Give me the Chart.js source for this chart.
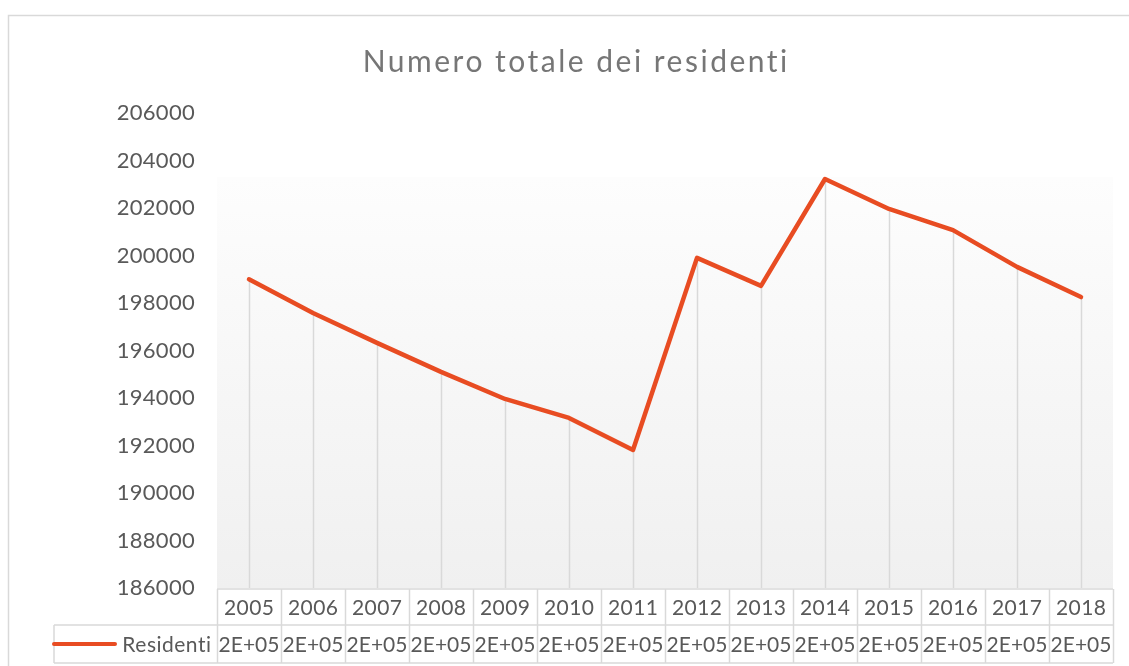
<!DOCTYPE html>
<html>
<head>
<meta charset="utf-8">
<script src="https://cdn.jsdelivr.net/npm/chart.js@4.4.1/dist/chart.umd.min.js"></script>
<style>
  html, body { margin: 0; padding: 0; background: #ffffff; }
  #wrap { width: 1129px; height: 666px; position: relative; }
</style>
</head>
<body>
<div id="wrap"><canvas id="c" width="1129" height="666"></canvas></div>
<script>
// ---- data ----
const chartTitle = 'Numero totale dei residenti';
const seriesName = 'Residenti';
const years = ['2005','2006','2007','2008','2009','2010','2011','2012','2013','2014','2015','2016','2017','2018'];
const residenti = [199000, 197580, 196320, 195100, 193960, 193160, 191810, 199900, 198720, 203220, 201960, 201070, 199520, 198250];
const yMin = 186000;
const yMax = 206000;
const yStep = 2000;

const FONT = 'Lato, "Open Sans", "Liberation Sans", sans-serif';
const LINE_COLOR = '#e84c22';
const GRID_COLOR = '#d9d9d9';
const TEXT_COLOR = '#595959';

// Excel-style "General" formatting in a narrow cell
function excelShort(v) {
  const e = Math.floor(Math.log10(Math.abs(v)));
  const m = Math.round(v / Math.pow(10, e));
  return m + 'E+' + String(e).padStart(2, '0');
}

function spacedText(ctx, text, x, y, spacing, align) {
  ctx.letterSpacing = spacing + 'px';
  const w = ctx.measureText(text).width - spacing;
  ctx.textAlign = 'left';
  let sx = x;
  if (align === 'center') sx = x - w / 2;
  else if (align === 'right') sx = x - w;
  ctx.fillText(text, sx, y);
  ctx.letterSpacing = '0px';
}

const bgPlugin = {
  id: 'bgPlugin',
  beforeDraw(chart) {
    const { ctx, chartArea: a, scales: { y } } = chart;
    ctx.save();
    // outer chart border (left + top only visible)
    ctx.strokeStyle = GRID_COLOR;
    ctx.lineWidth = 1.5;
    ctx.beginPath();
    ctx.moveTo(8.5, 680);
    ctx.lineTo(8.5, 15.5);
    ctx.lineTo(1140, 15.5);
    ctx.stroke();
    // plot area gradient
    const top = y.getPixelForValue(203300);
    const g = ctx.createLinearGradient(0, top, 0, a.bottom);
    g.addColorStop(0, '#fdfdfd');
    g.addColorStop(1, '#f0f0f0');
    ctx.fillStyle = g;
    ctx.fillRect(a.left, top, a.right - a.left, a.bottom - top);
    ctx.restore();
    ctx.letterSpacing = '0.3px';
  },
  beforeDatasetsDraw(chart) {
    const { ctx, chartArea: a } = chart;
    ctx.letterSpacing = '0px';
    // drop lines
    const meta = chart.getDatasetMeta(0);
    ctx.save();
    ctx.strokeStyle = '#d9d9d9';
    ctx.lineWidth = 1.5;
    meta.data.forEach(p => {
      ctx.beginPath();
      ctx.moveTo(Math.round(p.x) + 0.5, p.y);
      ctx.lineTo(Math.round(p.x) + 0.5, a.bottom);
      ctx.stroke();
    });
    ctx.restore();
  },
  afterDraw(chart) {
    const { ctx, chartArea: a, scales: { x } } = chart;
    ctx.save();
    // title
    ctx.fillStyle = '#767676';
    ctx.font = '30px ' + FONT;
    ctx.textBaseline = 'alphabetic';
    spacedText(ctx, chartTitle, 575, 72, 2.5, 'center');

    // data table
    const r1Top = a.bottom + 1, r1Bot = 625, r2Bot = 663;
    const tableLeft = 54;
    const colW = (a.right - a.left) / years.length;
    ctx.strokeStyle = GRID_COLOR;
    ctx.lineWidth = 1.5;
    ctx.beginPath();
    ctx.moveTo(a.left, r1Top); ctx.lineTo(a.right, r1Top);
    ctx.moveTo(tableLeft, r1Bot); ctx.lineTo(a.right, r1Bot);
    ctx.moveTo(tableLeft, r2Bot); ctx.lineTo(a.right, r2Bot);
    ctx.moveTo(tableLeft, r1Bot); ctx.lineTo(tableLeft, r2Bot);
    for (let i = 0; i <= years.length; i++) {
      const xx = Math.round(a.left + i * colW) + 0.5;
      ctx.moveTo(xx, r1Top); ctx.lineTo(xx, r2Bot);
    }
    ctx.stroke();

    ctx.fillStyle = TEXT_COLOR;
    ctx.font = '21px ' + FONT;
    ctx.textBaseline = 'middle';
    years.forEach((yr, i) => {
      const cx = x.getPixelForValue(i);
      spacedText(ctx, yr, cx, (r1Top + r1Bot) / 2 + 1, 0.4, 'center');
      spacedText(ctx, excelShort(residenti[i]), cx, (r1Bot + r2Bot) / 2 + 1, 0, 'center');
    });
    // legend key + series name
    const ly = (r1Bot + r2Bot) / 2;
    ctx.strokeStyle = LINE_COLOR;
    ctx.lineWidth = 4;
    ctx.lineCap = 'round';
    ctx.beginPath();
    ctx.moveTo(54, ly); ctx.lineTo(115, ly);
    ctx.stroke();
    spacedText(ctx, seriesName, a.left - 6, ly + 1, 0.5, 'right');
    ctx.restore();
  }
};

new Chart(document.getElementById('c'), {
  type: 'line',
  data: {
    labels: years,
    datasets: [{
      label: seriesName,
      data: residenti,
      borderColor: LINE_COLOR,
      borderWidth: 4.5,
      pointRadius: 0,
      tension: 0,
      borderCapStyle: 'round',
      borderJoinStyle: 'round',
      fill: false
    }]
  },
  options: {
    responsive: false,
    animation: false,
    layout: { padding: { left: 0, right: 16, top: 113, bottom: 0 } },
    plugins: {
      legend: { display: false },
      tooltip: { enabled: false },
      title: { display: false, text: chartTitle }
    },
    scales: {
      x: {
        offset: true,
        grid: { display: false, drawTicks: false },
        border: { display: false },
        ticks: { display: false },
        afterFit(s) { s.height = 78; }
      },
      y: {
        min: yMin,
        max: yMax,
        grid: { display: false, drawTicks: false },
        border: { display: false },
        ticks: {
          stepSize: yStep,
          padding: 22,
          color: TEXT_COLOR,
          font: { family: FONT, size: 22 },
          callback: v => String(v)
        },
        afterFit(s) { s.width = 217; }
      }
    }
  },
  plugins: [bgPlugin]
});
</script>
</body>
</html>
